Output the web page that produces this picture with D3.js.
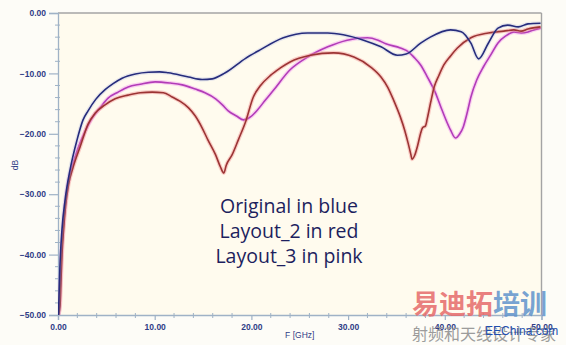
<!DOCTYPE html>
<html>
<head>
<meta charset="utf-8">
<script src="https://cdn.jsdelivr.net/npm/d3@7/dist/d3.min.js"></script>
<style>
  html, body { margin: 0; padding: 0; background: #fdfcf7; }
  svg { display: block; }
</style>
</head>
<body>
<svg id="chart" width="566" height="345"></svg>
<script>
// Return loss traces, frequency in GHz vs dB
const blueFreq = [0.05,0.12,0.2,0.41,0.73,1.24,1.97,2.59,3.11,3.9,4.87,5.7,6.63,8.0,9.33,10.5,11.4,13.5,14.9,15.95,17.3,19.4,20.9,23.3,25.8,27.9,29.5,31.6,33.4,35.1,36.0,37.5,38.5,40.6,41.7,42.7,43.5,44.5,45.5,46.5,47.6,48.6,49.9];
const blueDb   = [-50,-46,-42,-35.9,-31.0,-26.0,-21.0,-17.7,-16.2,-14.3,-12.7,-11.7,-10.8,-10.1,-9.8,-9.75,-9.9,-10.6,-11.0,-10.9,-9.9,-7.5,-6.1,-4.1,-3.3,-3.3,-3.6,-4.5,-5.6,-7.0,-6.8,-5.0,-4.0,-2.8,-3.1,-5.0,-7.6,-5.0,-2.5,-2.0,-2.3,-1.8,-1.7];

const redFreq = [0.05,0.21,0.31,0.41,0.57,0.78,1.09,1.55,2.28,3.11,3.83,4.87,5.91,7.25,8.50,9.74,10.9,11.8,12.6,13.5,14.2,14.9,15.5,16.3,16.8,17.15,17.4,18.0,18.65,19.4,20.2,20.9,22.0,23.0,24.0,26.1,28.5,30.6,32.3,33.4,34.1,34.7,35.4,35.85,36.2,36.5,36.6,36.9,37.2,37.5,37.7,38.0,38.2,38.55,38.9,39.4,39.9,40.6,41.3,42.7,44.5,46.1,47.15,47.9,48.6,49.9];
const redDb   = [-50,-48.5,-44.2,-40.0,-36.0,-32.0,-28.4,-25.6,-22.2,-18.4,-16.6,-15.2,-14.2,-13.6,-13.2,-13.1,-13.2,-13.9,-14.6,-15.7,-17.05,-19.0,-21.0,-23.5,-25.5,-26.5,-25.2,-23.5,-21.0,-18.0,-13.9,-12.1,-10.3,-9.1,-8.1,-7.0,-6.6,-7.3,-8.9,-10.6,-12.3,-14.4,-17.2,-19.4,-21.5,-23.5,-24.2,-23.5,-21.9,-19.9,-19.0,-18.7,-17.4,-14.7,-12.25,-10.3,-8.6,-7.1,-5.8,-4.1,-3.3,-3.0,-2.8,-3.0,-2.65,-2.3];

const pinkFreq = [0.05,0.16,0.26,0.36,0.52,0.73,1.04,1.45,2.07,2.80,3.52,4.35,5.18,6.22,7.25,8.50,10.05,11.6,12.85,14.2,15.2,16.3,17.0,17.6,18.45,19.2,19.9,20.6,21.45,22.3,24.0,25.8,27.9,29.9,32.0,33.1,33.9,35.4,36.3,36.8,37.5,38.2,39.0,39.6,40.2,40.6,41.1,41.55,41.9,42.3,42.7,43.3,44.0,44.8,45.5,46.3,47.15,47.9,48.6,49.2,49.9];
const pinkDb   = [-50,-48.5,-44.2,-40.0,-35.9,-32.0,-28.1,-25.5,-22.4,-19.6,-17.4,-15.7,-14.1,-13.1,-12.25,-11.8,-11.4,-11.6,-11.9,-12.6,-13.2,-14.2,-15.2,-16.2,-17.05,-17.7,-17.2,-16.1,-14.4,-12.75,-9.4,-7.3,-5.6,-4.5,-4.1,-4.5,-5.1,-5.8,-6.5,-7.3,-8.6,-10.6,-13.1,-15.6,-18.0,-19.4,-20.7,-20.0,-18.9,-16.6,-13.9,-11.1,-8.9,-6.8,-4.95,-3.8,-3.15,-3.3,-3.15,-2.8,-2.5];

const xTicks = [0, 10, 20, 30, 40, 50];
const yTicks = [0, -10, -20, -30, -40, -50];
const noteLines = ["Original in blue", "Layout_2 in red", "Layout_3 in pink"];

const svg = d3.select("#chart");
const L = 58, R = 541.5, T = 13, B = 315;

const x = d3.scaleLinear().domain([0, 50]).range([L, R]);
const y = d3.scaleLinear().domain([-50, 0]).range([B, T]);

// plot background
svg.append("rect").attr("x", L).attr("y", T).attr("width", R - L).attr("height", B - T)
  .attr("fill", "#fffbee");

// frame: top and right
svg.append("line").attr("x1", L).attr("x2", R).attr("y1", T).attr("y2", T)
  .attr("stroke", "#a4a4a4").attr("stroke-width", 1.4);
svg.append("line").attr("x1", R).attr("x2", R).attr("y1", T).attr("y2", B)
  .attr("stroke", "#a4a4a4").attr("stroke-width", 1.4);

const axisColor = "#9fb2c6";
const labelColor = "#2f3c86";

// y axis
const yAxis = svg.append("g").attr("transform", `translate(${L},0)`)
  .call(d3.axisLeft(y).tickValues(yTicks).tickSize(9).tickPadding(3).tickFormat(d3.format(".2f")));
yAxis.select(".domain").attr("stroke", axisColor).attr("stroke-width", 1.3);
yAxis.selectAll(".tick line").attr("stroke", axisColor).attr("stroke-width", 1.2);
yAxis.selectAll(".tick text").attr("fill", labelColor)
  .attr("font-family", "Liberation Sans, Arial, sans-serif").attr("font-size", 8.5).attr("font-weight", "bold");
const yMinor = d3.range(-50, 0.01, 2).filter(v => v % 10 !== 0);
svg.append("g").selectAll("line").data(yMinor).join("line")
  .attr("x1", L - 3).attr("x2", L + 2).attr("y1", d => y(d)).attr("y2", d => y(d))
  .attr("stroke", axisColor).attr("stroke-width", 1);

// x axis
const xAxis = svg.append("g").attr("transform", `translate(0,${B})`)
  .call(d3.axisBottom(x).tickValues(xTicks).tickSize(5).tickPadding(4).tickFormat(d3.format(".2f")));
xAxis.select(".domain").attr("stroke", axisColor).attr("stroke-width", 1.3);
xAxis.selectAll(".tick line").attr("stroke", axisColor).attr("stroke-width", 1.2);
xAxis.selectAll(".tick text").attr("fill", labelColor)
  .attr("font-family", "Liberation Sans, Arial, sans-serif").attr("font-size", 8.5).attr("font-weight", "bold");
const xMinor = d3.range(0, 50.01, 2).filter(v => v % 10 !== 0);
svg.append("g").selectAll("line").data(xMinor).join("line")
  .attr("x1", d => x(d)).attr("x2", d => x(d)).attr("y1", B - 2).attr("y2", B + 3)
  .attr("stroke", axisColor).attr("stroke-width", 1);

// axis titles
svg.append("text").attr("transform", "translate(18,165) rotate(-90)")
  .attr("text-anchor", "middle").attr("fill", labelColor)
  .attr("font-family", "Liberation Sans, Arial, sans-serif").attr("font-size", 8.5).text("dB");
svg.append("text").attr("x", (L + R) / 2).attr("y", 338)
  .attr("text-anchor", "middle").attr("fill", labelColor)
  .attr("font-family", "Liberation Sans, Arial, sans-serif").attr("font-size", 8.5).text("F [GHz]");

// traces
svg.append("clipPath").attr("id", "plotClip").append("rect")
  .attr("x", L).attr("y", T - 2).attr("width", R - L).attr("height", B - T + 2);

const line = d3.line().x(d => x(d[0])).y(d => y(d[1])).curve(d3.curveMonotoneX);
const series = [
  { f: pinkFreq, v: pinkDb, core: "#b23cb8", halo: "#f29af0", ho: 0.45 },
  { f: redFreq,  v: redDb,  core: "#9c3434", halo: "#f08a8a", ho: 0.4 },
  { f: blueFreq, v: blueDb, core: "#262c7c", halo: "#9aa6e0", ho: 0.25 }
];
const traces = svg.append("g").attr("clip-path", "url(#plotClip)");
series.forEach(s => {
  const pts = s.f.map((f, i) => [f, s.v[i]]);
  traces.append("path").datum(pts).attr("d", line).attr("fill", "none")
    .attr("stroke", s.halo).attr("stroke-opacity", s.ho).attr("stroke-width", 4);
  traces.append("path").datum(pts).attr("d", line).attr("fill", "none")
    .attr("stroke", s.core).attr("stroke-width", 1.6).attr("stroke-linejoin", "round");
});

// legend note
svg.append("g").selectAll("text").data(noteLines).join("text")
  .attr("x", 289).attr("y", (d, i) => 213 + i * 25)
  .attr("text-anchor", "middle").attr("fill", "#1d1f5e")
  .attr("font-family", "Open Sans, sans-serif").attr("font-size", 19.5)
  .text(d => d);

// site mark
const mark = svg.append("g");
mark.append("text").attr("x", 412).attr("y", 314)
  .attr("font-family", "Noto Sans CJK SC").attr("font-size", 27).attr("font-weight", "bold")
  .call(t => {
    t.append("tspan").attr("fill", "#e66a6a").attr("fill-opacity", 0.85).text("易迪拓");
    t.append("tspan").attr("fill", "#5f93cc").attr("fill-opacity", 0.85).text("培训");
  });
mark.append("text").attr("x", 412).attr("y", 340)
  .attr("font-family", "Noto Sans CJK SC").attr("font-size", 16).attr("fill", "#9c9c9c")
  .text("射频和天线设计专家");
mark.append("text").attr("x", 485).attr("y", 335)
  .attr("font-family", "Liberation Sans, Arial, sans-serif").attr("font-size", 12).attr("fill", "#1f4fb0")
  .text("EEChina.com");
</script>
</body>
</html>
